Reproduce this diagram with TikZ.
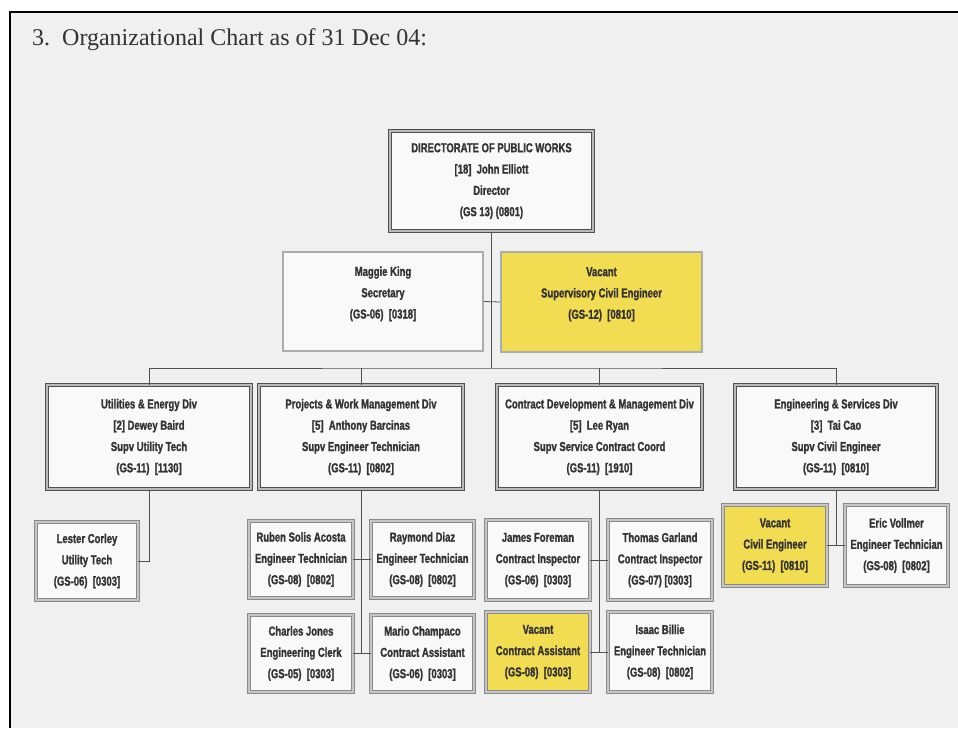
\documentclass[tikz,border=0pt]{standalone}
\usepackage{fontspec}
\setmainfont{Liberation Serif}
\newfontfamily\boxfont[FakeStretch=0.73, BoldFeatures={FakeBold=1.3}]{Liberation Sans}
\definecolor{bg}{HTML}{F0F0F0}
\definecolor{ink}{HTML}{333333}
\definecolor{vac}{HTML}{F1DC52}
\definecolor{edge}{HTML}{8A8A8A}
\definecolor{darkedge}{HTML}{505050}
\definecolor{wire}{HTML}{505050}
\tikzset{
  txt/.style={font=\boxfont\bfseries\fontsize{13}{21.3}\selectfont, text=ink, align=center, inner sep=0pt},
  smallbox/.style={txt, rectangle, fill=white!60!bg, draw=edge, line width=0.9pt, double=gray!45, double distance=1.4pt},
  divbox/.style={txt, rectangle, fill=white!60!bg, draw=darkedge, line width=1pt, double=gray!55, double distance=1.6pt},
  secbox/.style={txt, rectangle, fill=white!60!bg, draw=gray!65, line width=2.2pt},
  vacant/.style={fill=vac},
  wireline/.style={draw=wire, line width=0.8pt},
}
\begin{document}
\begin{tikzpicture}[x=1pt,y=-1pt]
\useasboundingbox (0,0) rectangle (958,728);
\fill[white] (0,0) rectangle (958,728);
\fill[bg] (10,12) rectangle (958,728);
\draw[line width=2.6pt, black] (10,728) -- (10,12) -- (958,12);

\node[anchor=base west, inner sep=0pt, font=\fontsize{24}{28}\selectfont, text=ink] (title) at (32,45)
  {3.\hspace{12pt}Organizational Chart as of 31 Dec 04:};

% top
\node[divbox, minimum width=203pt, minimum height=100pt] (top) at (491.5,181)
  {DIRECTORATE OF PUBLIC WORKS\\{}[18]\ \ John Elliott\\ Director\\ (GS 13) (0801)};

% second row
\node[secbox, minimum width=200pt, minimum height=99pt, text depth=18pt] (maggie) at (383,301.5)
  {Maggie King\\ Secretary\\ (GS-06)\ \ [0318]};
\node[secbox, vacant, minimum width=201pt, minimum height=100pt, text depth=18pt] (vsce) at (601.5,302)
  {Vacant\\ Supervisory Civil Engineer\\ (GS-12)\ \ [0810]};

% divisions
\node[divbox, minimum width=204pt, minimum height=104pt] (util) at (149,437)
  {Utilities \& Energy Div\\{}[2] Dewey Baird\\ Supv Utility Tech\\ (GS-11)\ \ [1130]};
\node[divbox, minimum width=204pt, minimum height=104pt] (proj) at (361,437)
  {Projects \& Work Management Div\\{}[5]\ \ Anthony Barcinas\\ Supv Engineer Technician\\ (GS-11)\ \ [0802]};
\node[divbox, minimum width=205pt, minimum height=104pt] (contr) at (599.5,437)
  {Contract Development \& Management Div\\{}[5]\ \ Lee Ryan\\ Supv Service Contract Coord\\ (GS-11)\ \ [1910]};
\node[divbox, minimum width=202pt, minimum height=104pt] (eng) at (836,437)
  {Engineering \& Services Div\\{}[3]\ \ Tai Cao\\ Supv Civil Engineer\\ (GS-11)\ \ [0810]};

% staff
\node[smallbox, minimum width=102pt, minimum height=78pt] (lester) at (87,561)
  {Lester Corley\\ Utility Tech\\ (GS-06)\ \ [0303]};
\node[smallbox, minimum width=104pt, minimum height=77pt] (ruben) at (301,559.5)
  {Ruben Solis Acosta\\ Engineer Technician\\ (GS-08)\ \ [0802]};
\node[smallbox, minimum width=103pt, minimum height=77pt] (raymond) at (422.5,559.5)
  {Raymond Diaz\\ Engineer Technician\\ (GS-08)\ \ [0802]};
\node[smallbox, minimum width=104pt, minimum height=77pt] (charles) at (301,653.5)
  {Charles Jones\\ Engineering Clerk\\ (GS-05)\ \ [0303]};
\node[smallbox, minimum width=103pt, minimum height=77pt] (mario) at (422.5,653.5)
  {Mario Champaco\\ Contract Assistant\\ (GS-06)\ \ [0303]};
\node[smallbox, minimum width=104pt, minimum height=80pt] (james) at (538,560)
  {James Foreman\\ Contract Inspector\\ (GS-06)\ \ [0303]};
\node[smallbox, minimum width=104pt, minimum height=80pt] (thomas) at (660,560)
  {Thomas Garland\\ Contract Inspector\\ (GS-07) [0303]};
\node[smallbox, vacant, minimum width=104pt, minimum height=80pt] (vca) at (538,652)
  {Vacant\\ Contract Assistant\\ (GS-08)\ \ [0303]};
\node[smallbox, minimum width=104pt, minimum height=80pt] (isaac) at (660,652)
  {Isaac Billie\\ Engineer Technician\\ (GS-08)\ \ [0802]};
\node[smallbox, vacant, minimum width=104pt, minimum height=81pt] (vce) at (775,545.5)
  {Vacant\\ Civil Engineer\\ (GS-11)\ \ [0810]};
\node[smallbox, minimum width=103pt, minimum height=81pt] (eric) at (896.5,545.5)
  {Eric Vollmer\\ Engineer Technician\\ (GS-08)\ \ [0802]};

% connectors
\coordinate (bus) at (491.5,368);
\draw[wireline] (top.south) -- (bus);
\draw[wireline] (maggie.east) -- (vsce.west);
\draw[wireline] (util.north) |- (bus) -| (eng.north);
\draw[wireline] (proj.north) -- (proj.north |- bus);
\draw[wireline] (contr.north) -- (contr.north |- bus);
\draw[wireline] (util.south) |- (lester.east);
\draw[wireline] (proj.south) -- (proj.south |- charles.east);
\draw[wireline] (ruben.east) -- (raymond.west);
\draw[wireline] (charles.east) -- (mario.west);
\draw[wireline] (contr.south) -- (contr.south |- vca.east);
\draw[wireline] (james.east) -- (thomas.west);
\draw[wireline] (vca.east) -- (isaac.west);
\draw[wireline] (eng.south) -- (eng.south |- vce.east);
\draw[wireline] (vce.east) -- (eric.west);
\end{tikzpicture}
\end{document}
